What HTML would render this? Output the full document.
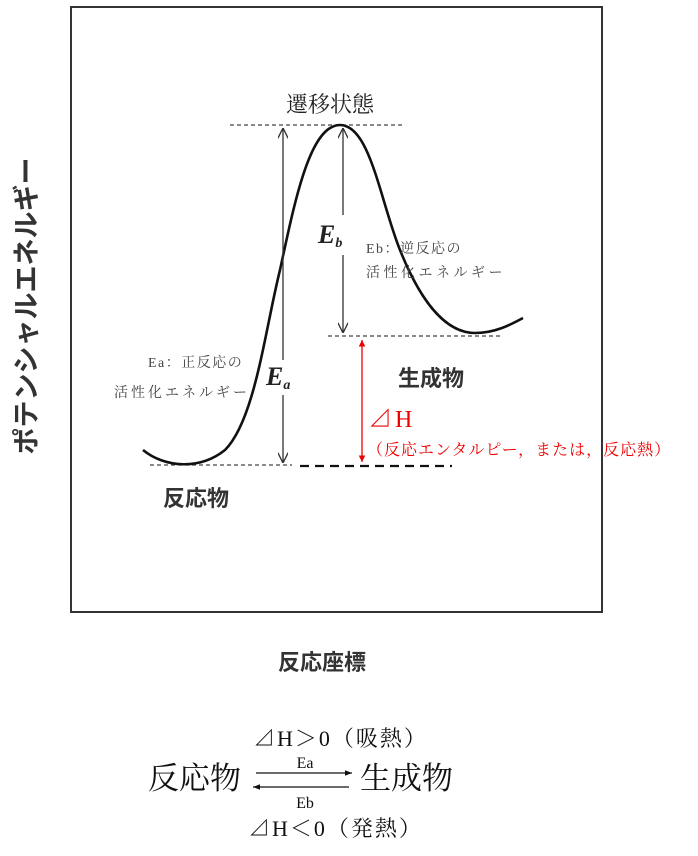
<!DOCTYPE html>
<html><head><meta charset="utf-8"><style>
body{margin:0;background:#fff;width:698px;height:851px;overflow:hidden}
svg text{font-family:"Liberation Serif","Noto Serif CJK SC",serif}
.g{font-family:"Liberation Sans","Noto Sans CJK JP",sans-serif;font-weight:bold;fill:#333}
</style></head><body>
<svg width="698" height="851" viewBox="0 0 698 851" xmlns="http://www.w3.org/2000/svg">
<defs>
<marker id="ah" viewBox="0 0 10 10" refX="10" refY="5" markerWidth="8" markerHeight="8" orient="auto-start-reverse"><path d="M0,0 L10,5 L0,10" fill="none" stroke="#333" stroke-width="1.3"/></marker>
<marker id="rh" viewBox="0 0 10 10" refX="10" refY="5" markerWidth="5" markerHeight="5" orient="auto-start-reverse"><path d="M0,0 L10,5 L0,10z" fill="#e00"/></marker>
<marker id="bh" viewBox="0 0 10 10" refX="10" refY="5" markerWidth="6" markerHeight="6" orient="auto"><path d="M0,1 L10,5 L0,9z" fill="#111"/></marker>
</defs>
<rect x="71" y="7" width="531" height="605" fill="none" stroke="#333" stroke-width="2"/>
<g stroke="#444" stroke-width="1.3" stroke-dasharray="4,3">
<line x1="230" y1="125" x2="405" y2="125"/>
<line x1="150" y1="465" x2="292" y2="465"/>
<line x1="328" y1="336" x2="500" y2="336"/>
</g>
<line x1="300" y1="466" x2="452" y2="466" stroke="#111" stroke-width="2.2" stroke-dasharray="9,6"/>
<path d="M143,450 C165,468 200,470 225,450 C255,420 265,330 280,270 C295,200 310,125 340,125 C370,125 380,200 400,250 C420,300 445,333 475,333 C495,333 510,325 523,318" fill="none" stroke="#111" stroke-width="2.6"/>
<line x1="283" y1="360" x2="283" y2="128" stroke="#333" stroke-width="1.3" marker-end="url(#ah)"/>
<line x1="283" y1="395" x2="283" y2="463" stroke="#333" stroke-width="1.3" marker-end="url(#ah)"/>
<line x1="343" y1="215" x2="343" y2="128" stroke="#333" stroke-width="1.3" marker-end="url(#ah)"/>
<line x1="343" y1="255" x2="343" y2="333" stroke="#333" stroke-width="1.3" marker-end="url(#ah)"/>
<line x1="362" y1="462" x2="362" y2="340" stroke="#e00" stroke-width="1.3" marker-start="url(#rh)" marker-end="url(#rh)"/>
<text x="330" y="112" font-size="22" text-anchor="middle" fill="#222">遷移状態</text>
<text x="318" y="243" font-size="26" font-style="italic" font-weight="bold" fill="#222">E<tspan font-size="14" dy="4">b</tspan></text>
<text x="266" y="385" font-size="26" font-style="italic" font-weight="bold" fill="#222">E<tspan font-size="14" dy="4">a</tspan></text>
<text x="366" y="253" font-size="14" fill="#444" letter-spacing="1.5">Eb：逆反応の</text>
<text x="366" y="277" font-size="14" fill="#444" letter-spacing="3.5">活性化エネルギー</text>
<text x="148" y="367" font-size="14" fill="#444" letter-spacing="1.5">Ea：正反応の</text>
<text x="114" y="397" font-size="14" fill="#444" letter-spacing="3">活性化エネルギー</text>
<text x="398" y="386" font-size="22" class="g">生成物</text>
<text x="163" y="506" font-size="22" class="g">反応物</text>
<text x="278" y="670" font-size="22" class="g">反応座標</text>
<text x="368" y="427" font-size="24" fill="#e00" letter-spacing="3">⊿H</text>
<text x="367" y="455" font-size="16" fill="#e00" letter-spacing="1">（反応エンタルピー，または，反応熱）</text>
<text transform="translate(36,306) rotate(-90)" font-size="27" text-anchor="middle" class="g">ポテンシャルエネルギー</text>
<text x="253" y="746" font-size="22" fill="#111" letter-spacing="2">⊿H＞0（吸熱）</text>
<text x="148" y="789" font-size="31" fill="#111">反応物</text>
<text x="360" y="789" font-size="31" fill="#111">生成物</text>
<line x1="256" y1="773" x2="352" y2="773" stroke="#111" stroke-width="1.2" marker-end="url(#bh)"/>
<line x1="349" y1="787" x2="253" y2="787" stroke="#111" stroke-width="1.2" marker-end="url(#bh)"/>
<text x="305" y="768" font-size="16" text-anchor="middle" fill="#111">Ea</text>
<text x="305" y="808" font-size="16" text-anchor="middle" fill="#111">Eb</text>
<text x="248" y="836" font-size="22" fill="#111" letter-spacing="2">⊿H＜0（発熱）</text>
</svg>
</body></html>
